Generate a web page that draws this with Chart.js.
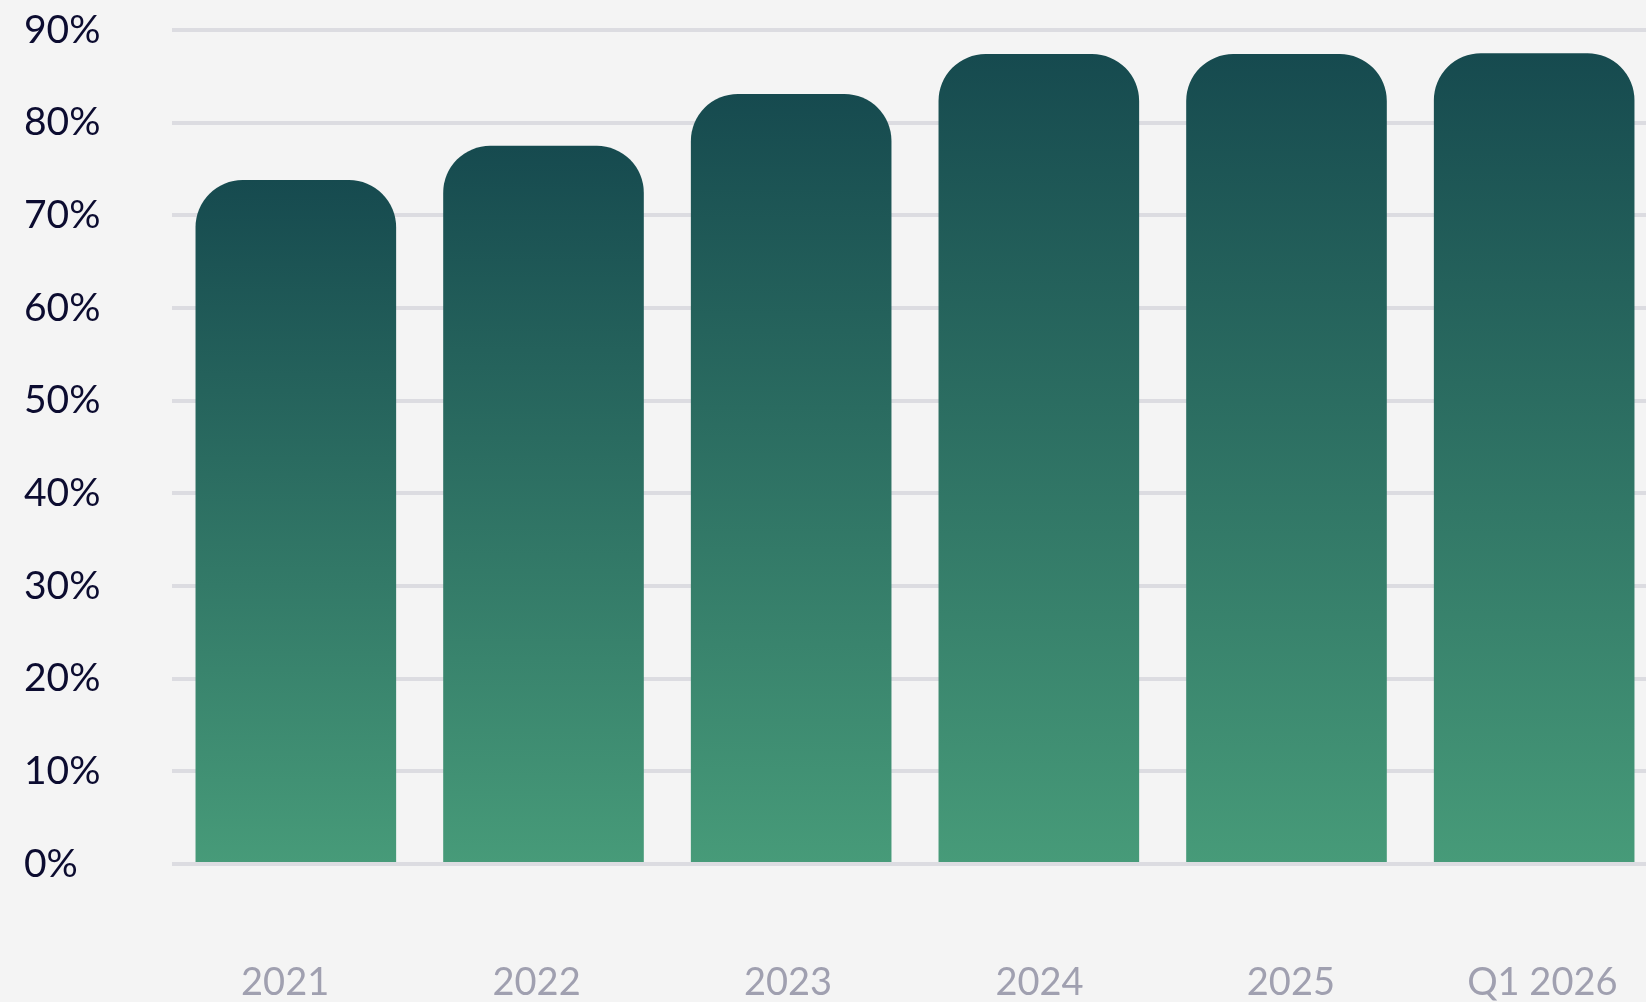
<!DOCTYPE html>
<html lang="en">

<head>
  <meta charset="UTF-8">
  <title>Share by year</title>
  <script src="https://cdn.jsdelivr.net/npm/chart.js"></script>
  <style>
    html, body {
      margin: 0;
      padding: 0;
      background: #f4f4f4;
      overflow: hidden;
    }
    #wrap {
      width: 1646px;
      height: 1002px;
      overflow: hidden;
    }
  </style>
</head>

<body>
  <div id="wrap">
    <canvas id="barChart" width="1662" height="1002" style="width:1662px;height:1002px"></canvas>
  </div>

  <script>
    var labels = ['2021', '2022', '2023', '2024', '2025', 'Q1 2026'];
    var values = [73.8, 77.5, 83.1, 87.4, 87.4, 87.5];
    var yTicks = [0, 10, 20, 30, 40, 50, 60, 70, 80, 90];

    // each bar gets its own dark-to-light gradient
    function barGradient(context) {
      var chart = context.chart;
      var yScale = chart.scales.y;
      if (!yScale || context.raw === undefined) return '#2e7566';
      var top = yScale.getPixelForValue(context.raw);
      var bottom = yScale.getPixelForValue(0);
      if (!isFinite(top) || !isFinite(bottom)) return '#2e7566';
      var g = chart.ctx.createLinearGradient(0, top, 0, bottom);
      g.addColorStop(0, '#164a4f');
      g.addColorStop(1, '#479b79');
      return g;
    }

    var ctx = document.getElementById('barChart').getContext('2d');
    var myChart = new Chart(ctx, {
      type: 'bar',
      data: {
        labels: labels,
        datasets: [{
          data: values,
          backgroundColor: barGradient,
          borderWidth: 0,
          borderRadius: { topLeft: 47, topRight: 47, bottomLeft: 0, bottomRight: 0 },
          borderSkipped: 'start',
          categoryPercentage: 1,
          barPercentage: 0.81
        }]
      },
      options: {
        responsive: false,
        animation: false,
        layout: {
          padding: { left: 24, top: 30, right: 4, bottom: 0 }
        },
        plugins: {
          legend: { display: false },
          tooltip: { enabled: false }
        },
        scales: {
          x: {
            display: false
          },
          // the year labels sit on a slightly wider spacing than the bars
          xLabels: {
            type: 'linear',
            position: 'bottom',
            offset: false,
            bounds: 'data',
            beginAtZero: false,
            min: -0.45,
            max: 5.46,
            afterBuildTicks: function (scale) {
              scale.ticks = labels.map(function (l, i) { return { value: i }; });
            },
            grid: { display: false },
            border: { display: false },
            ticks: {
              color: '#a0a0b0',
              padding: 88,
              maxRotation: 0,
              autoSkip: false,
              font: { family: 'Lato', size: 38, weight: 400 },
              callback: function (value) {
                return labels[value];
              }
            },
            afterFit: function (scale) {
              scale.height = 138;
              scale.paddingLeft = 0;
              scale.paddingRight = 0;
            }
          },
          y: {
            min: 0,
            max: 90,
            afterBuildTicks: function (scale) {
              scale.ticks = yTicks.map(function (v) { return { value: v }; });
            },
            grid: {
              color: '#dcdce1',
              lineWidth: 4,
              drawTicks: false
            },
            border: { display: false },
            ticks: {
              color: '#0c0c30',
              crossAlign: 'far',
              padding: 0,
              font: { family: 'Lato', size: 39, weight: 400 },
              callback: function (value) {
                return value + '%';
              }
            },
            afterFit: function (scale) {
              scale.width = 148;
              scale.paddingTop = 0;
              scale.paddingBottom = 0;
            }
          }
        }
      }
    });
  </script>
</body>

</html>
